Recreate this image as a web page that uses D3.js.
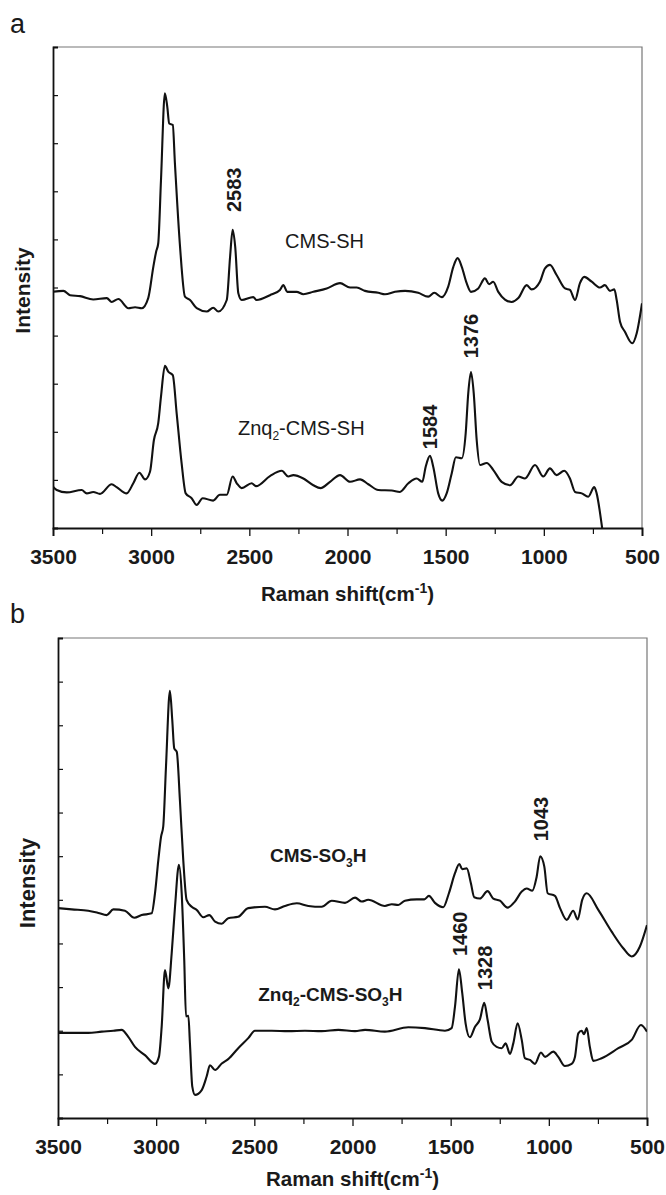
<!DOCTYPE html>
<html><head><meta charset="utf-8">
<script src="https://cdn.jsdelivr.net/npm/d3@7"></script>
<style>body{margin:0;background:#fff}svg{display:block}text{font-family:"Liberation Sans",Arial,sans-serif;fill:#1a1a1a}</style>
</head><body>
<svg id="chart" width="666" height="1195"></svg>
<script>
// ---------- data (wavenumber cm-1, intensity a.u.) ----------
const xMajorTicks = [3500, 3000, 2500, 2000, 1500, 1000, 500];
const xMinorTicks = [3250, 2750, 2250, 1750, 1250, 750];

const cmsSH = [[3500,4.91],[3447,4.93],[3413,4.84],[3362,4.82],[3295,4.75],[3226,4.78],[3201,4.70],[3167,4.76],[3116,4.57],[3082,4.59],[3048,4.57],[3015,4.78],[2989,5.43],[2975,5.74],[2964,5.92],[2950,7.23],[2930,9.04],[2918,8.76],[2908,8.41],[2890,8.38],[2879,7.58],[2853,5.85],[2828,4.81],[2802,4.74],[2768,4.57],[2717,4.50],[2684,4.58],[2658,4.50],[2615,4.74],[2598,5.64],[2585,6.20],[2572,5.85],[2556,4.88],[2539,4.74],[2480,4.80],[2463,4.74],[2395,4.84],[2344,4.95],[2327,5.05],[2307,4.91],[2259,4.91],[2225,4.86],[2174,4.91],[2106,4.98],[2038,5.09],[1987,5.00],[1953,5.00],[1911,4.93],[1843,4.89],[1809,4.86],[1758,4.91],[1707,4.93],[1640,4.89],[1589,4.81],[1558,4.89],[1520,4.80],[1487,5.02],[1461,5.43],[1439,5.61],[1418,5.43],[1393,5.09],[1371,4.91],[1334,4.98],[1300,5.19],[1279,5.07],[1258,5.12],[1232,4.91],[1198,4.75],[1164,4.70],[1130,4.78],[1087,5.05],[1062,4.96],[1020,5.12],[994,5.40],[969,5.47],[935,5.26],[892,4.98],[867,4.95],[841,4.74],[816,5.09],[794,5.22],[756,5.12],[714,5.00],[689,5.05],[663,4.93],[641,4.96],[629,4.74],[612,4.29],[587,4.08],[550,3.84],[527,4.05],[500,4.67]];

const znqCmsSH = [[3500,0.86],[3481,0.79],[3430,0.74],[3354,0.79],[3328,0.72],[3295,0.75],[3261,0.71],[3201,0.91],[3176,0.85],[3125,0.72],[3091,0.93],[3060,1.15],[3031,1.01],[3006,1.17],[2986,1.83],[2964,2.18],[2950,2.73],[2930,3.37],[2913,3.25],[2890,3.18],[2870,2.38],[2845,1.35],[2824,0.72],[2794,0.62],[2768,0.48],[2738,0.62],[2684,0.57],[2650,0.69],[2615,0.69],[2585,1.07],[2564,0.93],[2539,0.83],[2488,0.93],[2466,0.87],[2395,1.08],[2335,1.19],[2302,1.07],[2276,1.10],[2225,1.03],[2174,0.89],[2137,0.83],[2089,0.96],[2038,1.10],[1987,0.96],[1936,1.01],[1894,0.91],[1843,0.79],[1775,0.78],[1733,0.75],[1690,0.93],[1648,1.03],[1619,0.96],[1602,1.27],[1580,1.50],[1563,1.27],[1538,0.72],[1517,0.57],[1495,0.72],[1469,1.14],[1448,1.47],[1418,1.45],[1398,1.97],[1385,2.80],[1371,3.24],[1357,2.80],[1342,1.83],[1325,1.31],[1291,1.35],[1258,1.21],[1215,0.96],[1172,0.89],[1130,1.07],[1096,1.03],[1045,1.31],[1003,1.07],[969,1.24],[935,1.10],[896,1.19],[867,1.03],[841,0.75],[807,0.72],[774,0.65],[743,0.85],[731,0.72],[705,0.06],[690,-0.40]];

const cmsSO3H = [[3500,4.81],[3430,4.78],[3346,4.75],[3295,4.70],[3252,4.65],[3218,4.78],[3159,4.75],[3111,4.59],[3074,4.65],[3023,4.69],[3006,5.15],[2989,5.91],[2975,6.45],[2964,6.68],[2950,8.05],[2930,9.79],[2918,9.12],[2908,8.47],[2895,8.39],[2879,7.28],[2862,5.91],[2845,5.00],[2819,4.84],[2794,4.77],[2760,4.60],[2729,4.65],[2700,4.50],[2666,4.45],[2633,4.58],[2582,4.61],[2531,4.81],[2446,4.84],[2395,4.78],[2344,4.86],[2284,4.92],[2225,4.86],[2157,4.84],[2106,4.98],[2038,4.93],[1987,5.05],[1953,4.96],[1920,5.00],[1835,4.86],[1800,4.90],[1767,4.88],[1733,4.98],[1673,5.01],[1634,5.01],[1611,5.09],[1580,4.93],[1538,4.83],[1509,5.15],[1478,5.61],[1456,5.82],[1441,5.70],[1418,5.72],[1397,5.38],[1380,5.06],[1351,5.03],[1312,5.20],[1283,5.03],[1249,4.98],[1210,4.82],[1173,4.96],[1138,5.19],[1113,5.26],[1084,5.21],[1062,5.53],[1044,6.00],[1023,5.76],[1006,5.15],[969,5.09],[943,4.81],[909,4.54],[876,4.75],[853,4.55],[830,5.00],[807,5.15],[748,4.77],[680,4.27],[621,3.89],[578,3.70],[536,3.93],[500,4.42]];

const znqCmsSO3H = [[3500,1.95],[3346,1.95],[3277,1.98],[3218,2.00],[3176,2.02],[3142,1.86],[3108,1.63],[3057,1.44],[3006,1.24],[2986,1.40],[2972,2.09],[2955,3.39],[2938,2.97],[2921,3.77],[2904,4.84],[2884,5.80],[2870,5.15],[2857,3.62],[2848,2.33],[2836,2.34],[2828,1.71],[2816,0.72],[2802,0.53],[2768,0.64],[2743,0.95],[2726,1.21],[2700,1.10],[2666,1.25],[2633,1.35],[2582,1.60],[2531,1.83],[2497,2.00],[2412,2.00],[2327,1.99],[2242,2.00],[2157,1.99],[2072,2.02],[1987,1.99],[1936,2.02],[1835,1.98],[1716,2.08],[1631,2.06],[1529,2.00],[1495,2.06],[1478,2.55],[1458,3.41],[1441,2.86],[1424,2.17],[1402,1.85],[1376,2.09],[1351,2.26],[1329,2.64],[1312,2.25],[1291,1.75],[1266,1.63],[1240,1.60],[1220,1.71],[1198,1.47],[1181,1.71],[1159,2.17],[1138,1.79],[1122,1.37],[1096,1.33],[1071,1.24],[1040,1.50],[1019,1.40],[977,1.52],[952,1.40],[918,1.19],[884,1.24],[867,1.40],[850,1.94],[833,2.00],[821,1.92],[807,2.06],[791,1.63],[774,1.31],[731,1.37],[646,1.60],[578,1.79],[531,2.13],[500,1.98]];

// peak annotations: [label, wavenumber, intensity at label centre]
const peaksA = [["2583", 2583, 7.03], ["1584", 1584, 2.10], ["1376", 1376, 3.99]];
const peaksB = [["1043", 1043, 6.85], ["1460", 1460, 4.22], ["1328", 1328, 3.44]];

// ---------- drawing ----------
const svg = d3.select("#chart");
const FONT = '"Liberation Sans",Arial,sans-serif';

function panel(cfg) {
  const x = d3.scaleLinear().domain([3500, 500]).range([cfg.left, cfg.right]);
  const y = d3.scaleLinear().domain([0, cfg.ymax]).range([cfg.bottom, cfg.top]);
  const g = svg.append("g");
  const clipId = "clip" + cfg.id;
  svg.append("clipPath").attr("id", clipId).append("rect")
    .attr("x", cfg.left).attr("y", cfg.top)
    .attr("width", cfg.right - cfg.left).attr("height", cfg.bottom - cfg.top);

  // frame top/right
  g.append("path").attr("d", `M${cfg.left},${cfg.top}H${cfg.right}V${cfg.bottom}`)
    .attr("fill", "none").attr("stroke", "#777").attr("stroke-width", 1.2);

  // y axis (inward ticks, no labels)
  const yAxis = g.append("g").attr("transform", `translate(${cfg.left},0)`)
    .call(d3.axisLeft(y).tickValues(d3.range(1, cfg.ymax)).tickSize(-5).tickFormat(""));
  yAxis.select(".domain").attr("stroke", "#111").attr("stroke-width", 1.8);
  yAxis.selectAll(".tick line").attr("stroke", "#111").attr("stroke-width", 1.2);

  // x axis
  const xMinor = g.append("g").attr("transform", `translate(0,${cfg.bottom})`)
    .call(d3.axisBottom(x).tickValues(xMinorTicks).tickSize(6).tickFormat(""));
  xMinor.select(".domain").remove();
  xMinor.selectAll(".tick line").attr("stroke", "#111").attr("stroke-width", 1.2);
  const xAxis = g.append("g").attr("transform", `translate(0,${cfg.bottom})`)
    .call(d3.axisBottom(x).tickValues(xMajorTicks).tickSize(8).tickPadding(10).tickFormat(d3.format("d")));
  xAxis.select(".domain").attr("stroke", "#111").attr("stroke-width", 1.8);
  xAxis.selectAll(".tick line").attr("stroke", "#111").attr("stroke-width", 1.3);
  xAxis.selectAll(".tick text").attr("font-family", FONT).attr("font-size", 21)
    .attr("font-weight", "bold").attr("fill", "#222").attr("dy", "0.85em");

  // curves
  const line = d3.line().x(d => x(d[0])).y(d => y(d[1])).curve(d3.curveMonotoneX);
  cfg.series.forEach(s => {
    g.append("path").datum(s).attr("d", line).attr("clip-path", `url(#${clipId})`)
      .attr("fill", "none").attr("stroke", "#111").attr("stroke-width", 2.1)
      .attr("stroke-linejoin", "round");
  });

  // peak labels (rotated)
  cfg.peaks.forEach(p => {
    g.append("text").attr("transform", `translate(${x(p[1]) + 8},${y(p[2])}) rotate(-90)`)
      .attr("text-anchor", "middle").attr("font-size", 20).attr("font-weight", "bold")
      .text(p[0]);
  });

  // y label
  g.append("text").attr("transform", `translate(${cfg.left - 23},${(cfg.top + cfg.bottom) / 2 + cfg.ylabOff}) rotate(-90)`)
    .attr("text-anchor", "middle").attr("font-size", cfg.ylabSize).attr("font-weight", "bold").text("Intensity");

  // x label
  const xl = g.append("text").attr("x", (cfg.left + cfg.right) / 2).attr("y", cfg.bottom + cfg.xlabOff)
    .attr("text-anchor", "middle").attr("font-size", 20.5).attr("font-weight", "bold");
  xl.append("tspan").text("Raman shift(cm");
  xl.append("tspan").attr("font-size", 14).attr("dy", -8).text("-1");
  xl.append("tspan").attr("dy", 8).text(")");

  // panel letter
  g.append("text").attr("x", 10).attr("y", cfg.letterY).attr("font-size", 27).text(cfg.letter);

  return { x, y, g };
}

// panel a
const A = panel({ id: "a", left: 53, right: 642, top: 47, bottom: 528, ymax: 10,
  series: [cmsSH, znqCmsSH], peaks: peaksA, letter: "a", letterY: 33, xlabOff: 73, ylabOff: 3, ylabSize: 21 });
// panel b
const B = panel({ id: "b", left: 58, right: 647, top: 638, bottom: 1118, ymax: 11,
  series: [cmsSO3H, znqCmsSO3H], peaks: peaksB, letter: "b", letterY: 623, xlabOff: 68, ylabOff: 5, ylabSize: 22 });

// series names
function seriesLabel(P, xVal, yVal, parts, bold, size) {
  const t = P.g.append("text").attr("x", P.x(xVal)).attr("y", P.y(yVal))
    .attr("font-size", size).attr("font-weight", bold ? "bold" : "normal");
  parts.forEach(pt => {
    if (pt.sub) t.append("tspan").attr("font-size", 12).attr("dy", 5).text(pt.t);
    else t.append("tspan").attr("dy", pt.after ? -5 : 0).text(pt.t);
  });
}
seriesLabel(A, 2318, 5.83, [{ t: "CMS-SH" }], false, 20);
seriesLabel(A, 2558, 1.94, [{ t: "Znq" }, { t: "2", sub: true }, { t: "-CMS-SH", after: true }], false, 20);
seriesLabel(B, 2420, 5.87, [{ t: "CMS-SO" }, { t: "3", sub: true }, { t: "H", after: true }], true, 19);
seriesLabel(B, 2480, 2.67, [{ t: "Znq" }, { t: "2", sub: true }, { t: "-CMS-SO" , after: true}, { t: "3", sub: true }, { t: "H", after: true }], true, 19);
</script>
</body></html>
